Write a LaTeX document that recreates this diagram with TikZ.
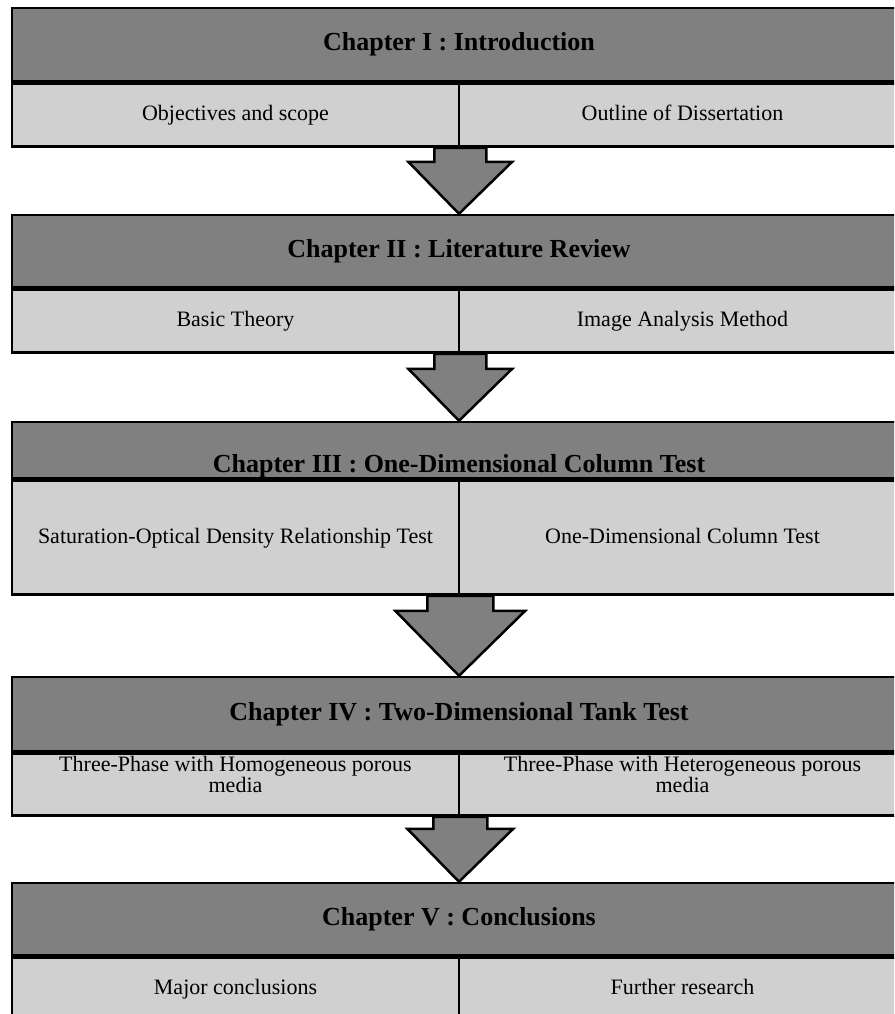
\documentclass[tikz,border=0pt]{standalone}
\usepackage{xcolor}
\usepackage{fontspec}
\setmainfont{Liberation Serif}
\usepackage{tikz}
\usetikzlibrary{positioning,calc}

\definecolor{headgray}{HTML}{808080}
\definecolor{subgray}{HTML}{D0D0D0}

% block arrow from (#1) down to (#2), shaft half width #3, head half width #4
\newcommand{\flowarrow}[4]{%
  \draw[chapterarrow] let \p1=(#1), \p2=(#2) in
    (\x1-#3pt,\y1) -- (\x1-#3pt,\y2+#4pt) -- (\x1-#4pt,\y2+#4pt) -- (\x2,\y2)
    -- (\x1+#4pt,\y2+#4pt) -- (\x1+#3pt,\y2+#4pt) -- (\x1+#3pt,\y1) -- cycle;}

\begin{document}
\begin{tikzpicture}[x=1pt, y=-1pt,
    chapter/.style={draw, line width=2.5pt, fill=headgray, minimum width=894pt,
        inner sep=0pt, font=\fontsize{26}{30}\selectfont\bfseries},
    part/.style={draw, line width=2.5pt, fill=subgray, minimum width=447pt,
        inner sep=0pt, text height=16pt, text depth=5pt, font=\fontsize{22}{24}\selectfont},
    twoline/.style={part, align=center, text height=34pt, text depth=18pt,
        font=\fontsize{22}{18}\selectfont},
    chapterarrow/.style={draw, line width=2.5pt, fill=headgray, line join=miter}]
\useasboundingbox (0,0) rectangle (894,1014);
\clip (0,0) rectangle (894,1014);

\node[chapter, minimum height=73pt] (ch1) at (459,44.5) {Chapter I : Introduction};
\node[part, minimum height=63pt, anchor=north west] (ch1a) at (ch1.south west) {Objectives and scope};
\node[part, minimum height=63pt, anchor=north east] (ch1b) at (ch1.south east) {Outline of Dissertation};

\node[chapter, minimum height=72pt] (ch2) at (459,251) {Chapter II : Literature Review};
\node[part, minimum height=63pt, anchor=north west] (ch2a) at (ch2.south west) {Basic Theory};
\node[part, minimum height=63pt, anchor=north east] (ch2b) at (ch2.south east) {Image Analysis Method};

\node[chapter, minimum height=56pt, text height=44pt, text depth=0pt] (ch3) at (459,450) {Chapter III : One-Dimensional Column Test};
\node[part, minimum height=114pt, anchor=north west] (ch3a) at (ch3.south west) {Saturation-Optical Density Relationship Test};
\node[part, minimum height=114pt, anchor=north east] (ch3b) at (ch3.south east) {One-Dimensional Column Test};

\node[chapter, minimum height=74pt] (ch4) at (459,714) {Chapter IV : Two-Dimensional Tank Test};
\node[twoline, minimum height=62pt, anchor=north west] (ch4a) at (ch4.south west) {Three-Phase with Homogeneous porous\\media};
\node[twoline, minimum height=62pt, anchor=north east] (ch4b) at (ch4.south east) {Three-Phase with Heterogeneous porous\\media};

\node[chapter, minimum height=72pt] (ch5) at (459,919) {Chapter V : Conclusions};
\node[part, minimum height=63pt, anchor=north west] (ch5a) at (ch5.south west) {Major conclusions};
\node[part, minimum height=63pt, anchor=north east] (ch5b) at (ch5.south east) {Further research};

\flowarrow{ch1a.south east}{ch2.north}{26}{52}
\flowarrow{ch2a.south east}{ch3.north}{26}{52}
\flowarrow{ch3a.south east}{ch4.north}{33}{65}
\flowarrow{ch4a.south east}{ch5.north}{27}{53}

\end{tikzpicture}
\end{document}
